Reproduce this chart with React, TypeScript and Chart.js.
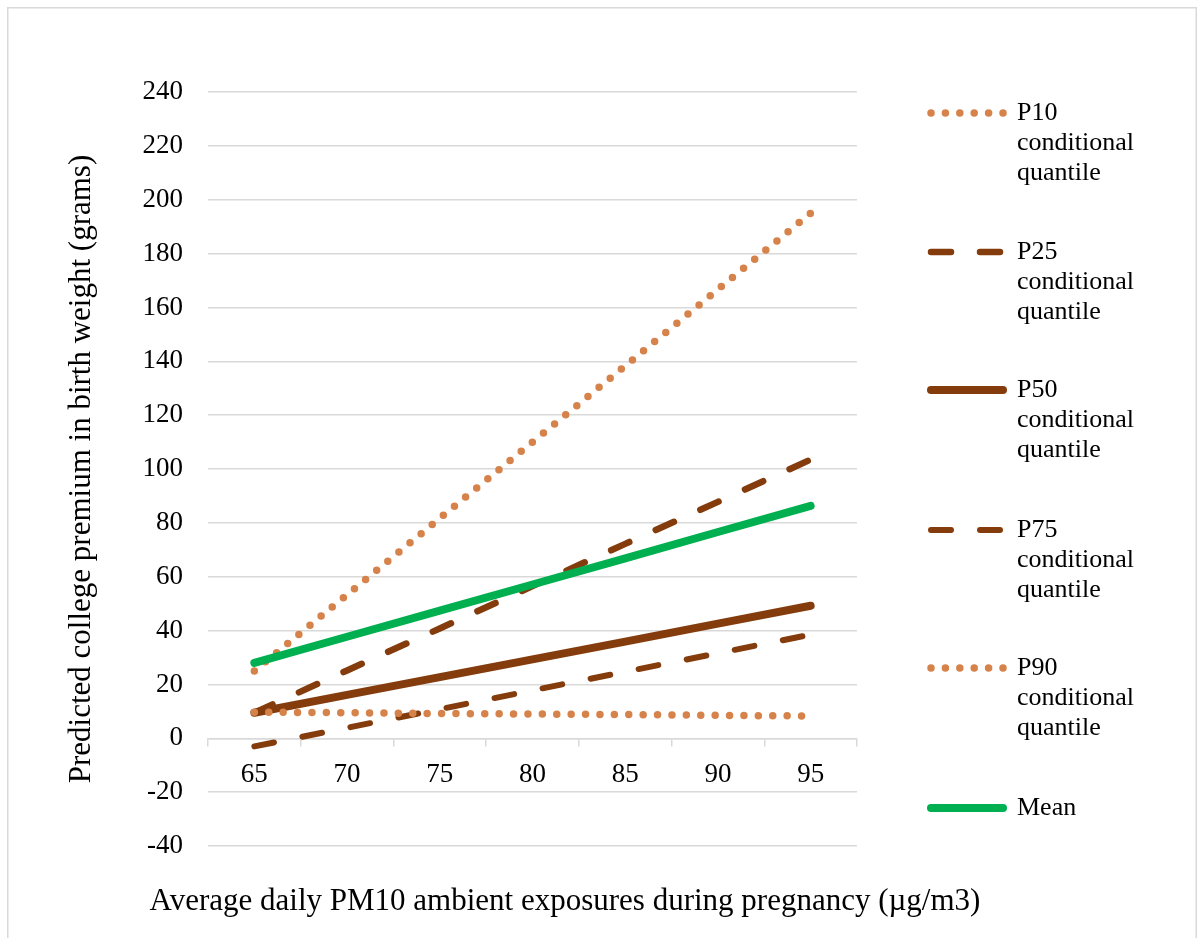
import React, { useEffect, useRef } from "react";
import { Chart, registerables } from "chart.js";

Chart.register(...registerables);

const categories = ["65", "70", "75", "80", "85", "90", "95"];
const p10Values = [25, 53.3, 81.7, 110, 138.3, 166.7, 195];
const p25Values = [9.5, 25.2, 40.8, 56.5, 72.2, 87.8, 103.5];
const p50Values = [9.5, 16.1, 22.7, 29.3, 35.9, 42.6, 49.2];
const p75Values = [-3, 3.9, 10.8, 17.8, 24.7, 31.6, 38.5];
const p90Values = [9.7, 9.5, 9.2, 9.0, 8.8, 8.5, 8.3];
const meanValues = [28, 37.7, 47.4, 57.1, 66.8, 76.6, 86.3];
const seriesNames = [
  ["P10", "conditional", "quantile"],
  ["P25", "conditional", "quantile"],
  ["P50", "conditional", "quantile"],
  ["P75", "conditional", "quantile"],
  ["P90", "conditional", "quantile"],
  ["Mean"],
];
const yTitle = "Predicted college premium in birth weight (grams)";
const xTitle = "Average daily PM10 ambient exposures during pregnancy (\u00b5g/m3)";

const FONT = "'Liberation Serif', 'Times New Roman', serif";
const ORANGE = "#D6834B";
const BROWN = "#843C0C";
const GREEN = "#00B050";
const GRID = "#D9D9D9";
const TICK_FS = 27;
const LEG_FS = 26;
const TITLE_FS = 31;

const decorPlugin = {
  id: "decor",
  beforeDraw(chart: any) {
    const { ctx, width, height } = chart;
    ctx.save();
    ctx.fillStyle = "#fff";
    ctx.fillRect(0, 0, width, height);
    ctx.strokeStyle = GRID;
    ctx.lineWidth = 1.5;
    ctx.strokeRect(0.75, 0.75, width - 1.5, height + 10);
    ctx.restore();
  },
  afterDraw(chart: any) {
    const { ctx } = chart;
    ctx.save();
    // x-axis title
    ctx.fillStyle = "#000";
    ctx.font = `${TITLE_FS}px ${FONT}`;
    ctx.textAlign = "center";
    ctx.textBaseline = "middle";
    ctx.fillText(xTitle, 558, 895);
    // legend
    const rowsY = [106, 245, 383, 523, 661, 801];
    chart.data.datasets.forEach((ds: any, i: number) => {
      const y = rowsY[i];
      ctx.save();
      ctx.strokeStyle = ds.borderColor;
      ctx.lineWidth = ds.borderWidth;
      ctx.lineCap = "round";
      ctx.setLineDash(ds.borderDash || []);
      ctx.beginPath();
      ctx.moveTo(924, y);
      ctx.lineTo(996, y);
      ctx.stroke();
      ctx.restore();
      ctx.fillStyle = "#000";
      ctx.font = `${LEG_FS}px ${FONT}`;
      ctx.textAlign = "left";
      ctx.textBaseline = "middle";
      seriesNames[i].forEach((t, k) => ctx.fillText(t, 1010, y + k * 30));
    });
    ctx.restore();
  },
};

export default function App() {
  const ref = useRef<HTMLCanvasElement | null>(null);
  useEffect(() => {
    if (!ref.current) return;
    const dotted = [0, 14.4];
    const dashed = [20, 29];
    const chart = new Chart(ref.current, {
      type: "line",
      data: {
        labels: categories,
        datasets: [
          { label: "P10 conditional quantile", data: p10Values, borderColor: ORANGE, borderWidth: 7.5, borderDash: dotted, borderCapStyle: "round", order: 6 },
          { label: "P25 conditional quantile", data: p25Values, borderColor: BROWN, borderWidth: 6.5, borderDash: dashed, borderCapStyle: "round", order: 5 },
          { label: "P50 conditional quantile", data: p50Values, borderColor: BROWN, borderWidth: 8, borderCapStyle: "round", order: 4 },
          { label: "P75 conditional quantile", data: p75Values, borderColor: BROWN, borderWidth: 6, borderDash: dashed, borderCapStyle: "round", order: 3 },
          { label: "P90 conditional quantile", data: p90Values, borderColor: ORANGE, borderWidth: 7.5, borderDash: dotted, borderCapStyle: "round", order: 2 },
          { label: "Mean", data: meanValues, borderColor: GREEN, borderWidth: 8, borderCapStyle: "round", order: 1 },
        ] as any,
      },
      options: {
        animation: false,
        responsive: false,
        maintainAspectRatio: false,
        layout: { autoPadding: false, padding: { top: 85, right: 340, bottom: 92, left: 0 } },
        elements: { point: { radius: 0, hoverRadius: 0 }, line: { tension: 0 } },
        plugins: { legend: { display: false }, tooltip: { enabled: false }, title: { display: false } },
        scales: {
          x: {
            type: "category",
            position: { y: 0 } as any,
            offset: true,
            grid: { display: true, drawOnChartArea: false, drawTicks: true, tickLength: 7, color: GRID, lineWidth: 1.5, offset: true },
            border: { display: true, color: GRID, width: 1.5 },
            ticks: { color: "#000", font: { family: FONT, size: TICK_FS }, padding: 13, maxRotation: 0 },
          },
          y: {
            type: "linear",
            position: "left",
            min: -40,
            max: 240,
            afterFit: (scale: any) => { scale.width = 201; },
            ticks: { stepSize: 20, color: "#000", font: { family: FONT, size: TICK_FS }, padding: 25 },
            grid: { color: GRID, lineWidth: 1.5, drawTicks: false },
            border: { display: false },
            title: { display: true, text: yTitle, color: "#000", font: { family: FONT, size: TITLE_FS }, padding: { top: 56, bottom: 0 } },
          },
        },
      },
      plugins: [decorPlugin],
    });
    return () => chart.destroy();
  }, []);
  return (
    <div style={{ position: "absolute", left: 7, top: 7 }}>
      <canvas ref={ref} width={1190} height={931} style={{ display: "block", width: 1190, height: 931 }} />
    </div>
  );
}
